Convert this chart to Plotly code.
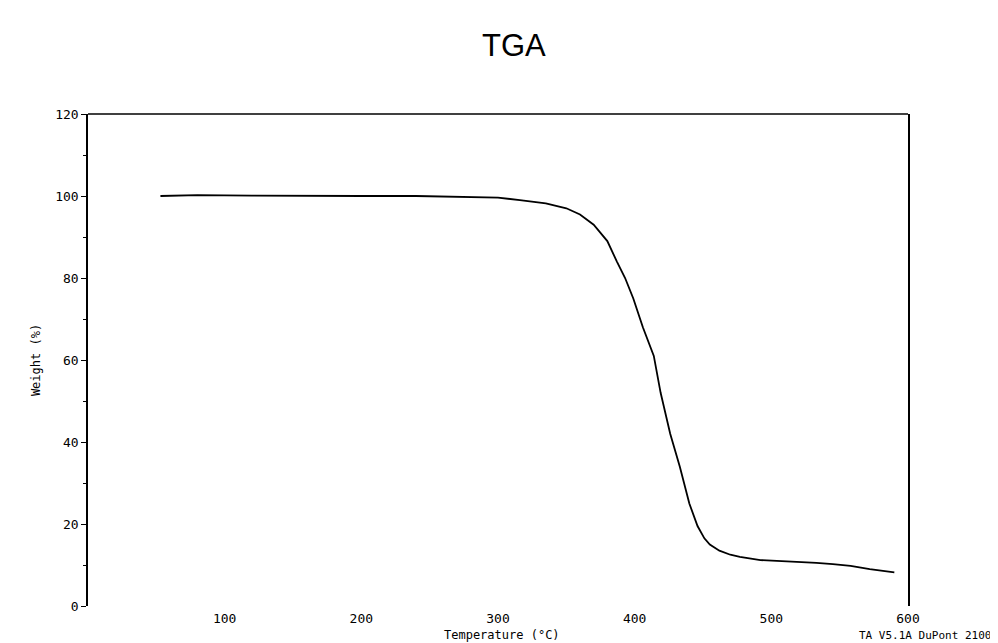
import plotly.graph_objects as go

# Data (temperature in °C, weight in %)
temperature = [53, 80, 120, 160, 200, 240, 280, 300, 316, 335, 350, 360, 370, 380, 387,
               393, 399, 406, 414, 419, 426, 433, 440, 446, 451, 455, 462, 470, 477,
               492, 504, 520, 533, 545, 558, 572, 587, 590]
weight = [100, 100.2, 100.1, 100, 100, 100, 99.8, 99.6, 99, 98.2, 97, 95.5, 93, 89, 84,
          80, 75, 68, 61, 52, 42, 34, 25, 19.5, 16.5, 15, 13.5, 12.5, 12,
          11.2, 11, 10.8, 10.5, 10.2, 9.8, 9, 8.3, 8.2]

x_ticks = [100, 200, 300, 400, 500, 600]
y_ticks = [0, 20, 40, 60, 80, 100, 120]

mono = "DejaVu Sans Mono"

fig = go.Figure()
fig.add_trace(go.Scatter(
    x=temperature, y=weight, mode="lines",
    line=dict(color="black", width=1.8),
    showlegend=False,
))

fig.update_layout(
    width=990, height=635,
    margin=dict(l=80, r=90, t=106, b=37),
    paper_bgcolor="white", plot_bgcolor="white",
    title=dict(text="TGA", x=0.511, xanchor="center", y=0.942, yanchor="middle",
               font=dict(family="Liberation Sans", size=31, color="black")),
    xaxis=dict(
        range=[0, 600], tickvals=x_ticks, ticktext=[str(v) for v in x_ticks],
        showgrid=False, zeroline=False, showline=False, ticks="",
        tickfont=dict(family=mono, size=13, color="black"),
        ticklabelstandoff=3,
    ),
    yaxis=dict(
        range=[0, 120], tickvals=y_ticks, ticktext=[str(v) for v in y_ticks],
        showgrid=False, zeroline=False, showline=True, mirror=True,
        linecolor="black", linewidth=1.5,
        ticks="outside", ticklen=5, tickcolor="black",
        minor=dict(dtick=10, ticks="outside", ticklen=3, tickcolor="black"),
        tickfont=dict(family=mono, size=13, color="black"),
        title=dict(text="Weight (%)", standoff=12,
                   font=dict(family=mono, size=12, color="black")),
    ),
    shapes=[dict(type="line", xref="paper", yref="paper", x0=0, x1=1, y0=1, y1=1,
                 line=dict(color="black", width=1.5))],
    annotations=[
        dict(text="Temperature (°C)", xref="paper", yref="paper",
             x=0.505, y=-0.04, xanchor="center", yanchor="top", showarrow=False,
             font=dict(family=mono, size=12, color="black")),
        dict(text="TA V5.1A DuPont 2100", xref="paper", yref="paper",
             x=1.104, y=-0.043, xanchor="right", yanchor="top", showarrow=False,
             font=dict(family=mono, size=11, color="black")),
    ],
)

fig.write_html("out.html")
